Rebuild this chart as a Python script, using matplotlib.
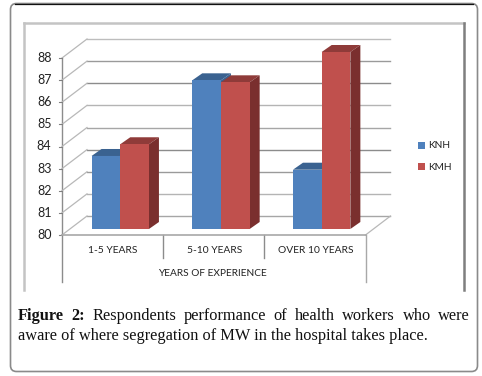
import matplotlib
matplotlib.use('Agg')
import matplotlib.pyplot as plt
from matplotlib.patches import FancyBboxPatch, Polygon, Rectangle
from matplotlib.lines import Line2D

W, H = 482, 376

categories = ['1-5 YEARS', '5-10 YEARS', 'OVER 10 YEARS']
knh = [83.3, 86.72, 82.68]
kmh = [83.83, 86.63, 88.0]
y_ticks = [80, 81, 82, 83, 84, 85, 86, 87, 88]
x_title = 'YEARS OF EXPERIENCE'
caption_bold = 'Figure 2:'
caption_1 = 'Respondents performance of health workers who were'
caption_2 = 'aware of where segregation of MW in the hospital takes place.'

BLUE, BLUE_TOP = '#4F81BD', '#3A6290'
RED, RED_TOP, RED_SIDE = '#C0504D', '#8F3B39', '#7A2F2E'
LAB = 'Lato'

fig = plt.figure(figsize=(W / 100, H / 100), dpi=100, facecolor='white')


def fx(x):
    return x / W


def fy(y):
    return 1 - y / H


def pline(xs, ys, color, lw=1.0):
    fig.add_artist(Line2D([fx(x) for x in xs], [fy(y) for y in ys], color=color, lw=lw,
                          transform=fig.transFigure))


def ptext(x, y, s, **kw):
    return fig.text(fx(x), fy(y), s, **kw)


# outer rounded frame
ax_bg = fig.add_axes([0, 0, 1, 1], zorder=0)
ax_bg.set_xlim(0, W)
ax_bg.set_ylim(H, 0)
ax_bg.axis('off')
ax_bg.add_patch(FancyBboxPatch((10.5, 3.5), 467, 368, boxstyle='round,pad=0,rounding_size=6',
                               fc='white', ec='#8a8a8a', lw=1.2))
ax_bg.plot([15, 473], [3.5, 3.5], color='#111111', lw=0.9)

# inner chart box
ax_bg.plot([24, 24], [23, 290], color='#c4c4c4', lw=1.8)
ax_bg.plot([24, 464], [23, 23], color='#c4c4c4', lw=1.8)
ax_bg.plot([464, 464], [23, 290], color='#7f7f7f', lw=1.8)

# chart axes = the front plane of the 3d box
x0, x1, y_bot, y_top = 62, 365.5, 235, 58
ax = fig.add_axes([fx(x0), fy(y_bot), (x1 - x0) / W, (y_bot - y_top) / H], zorder=2)
ax.set_xlim(0, 3)
ax.set_ylim(80, 88)
ax.axis('off')
ax.patch.set_alpha(0)

ux = (x1 - x0) / 3
uy = (y_bot - y_top) / 8
wall_dx, wall_dy = 25 / ux, 19 / uy      # depth of the walls in data units
bar_dy = 6 / uy                          # bars stand a bit back on the floor
side_dx, side_dy = 10 / ux, 7 / uy       # depth of a bar
bar_w = 28.7 / ux
start = 0.292

grid_cols = ['#a6a6a6', '#b4b4b4', '#9a9a9a', '#8c8c8c', '#a6a6a6', '#b4b4b4', '#8c8c8c', '#9a9a9a', '#bdbdbd']
for t, c in zip(y_ticks, grid_cols):
    ax.plot([wall_dx, 3 + wall_dx], [t + wall_dy, t + wall_dy], color=c, lw=1.0, clip_on=False, zorder=1)
    ax.plot([0, wall_dx], [t, t + wall_dy], color='#b8b8b8', lw=0.9, clip_on=False, zorder=1)
    ax.plot([-2.5 / ux, 0], [t, t], color='#808080', lw=0.8, clip_on=False, zorder=1)
    ax.text(-10.5 / ux, t, str(t), ha='right', va='center', fontsize=9, family=LAB, color='#222222')

ax.plot([3, 3 + wall_dx], [80, 80 + wall_dy], color='#b8b8b8', lw=0.9, clip_on=False, zorder=1)
ax.plot([0, 3], [80, 80], color='#a8a8a8', lw=1.2, clip_on=False, zorder=1)


def draw_bar(left, val, col, top_col, side_col):
    z = 3 + left
    b = 80 + bar_dy
    v = val + bar_dy
    ax.bar(left, v - b, bar_w, bottom=b, align='edge', color=col, clip_on=False, zorder=z + 0.2)
    ax.add_patch(Polygon([(left, v), (left + bar_w, v), (left + bar_w + side_dx, v + side_dy), (left + side_dx, v + side_dy)],
                         fc=top_col, ec='none', clip_on=False, zorder=z))
    ax.add_patch(Polygon([(left + bar_w, b), (left + bar_w + side_dx, b + side_dy), (left + bar_w + side_dx, v + side_dy),
                          (left + bar_w, v)], fc=side_col, ec='none', clip_on=False, zorder=z))


for i in range(len(categories)):
    draw_bar(start + i * 0.9955, knh[i], BLUE, BLUE_TOP, BLUE_TOP)
    draw_bar(start + i * 0.9955 + bar_w, kmh[i], RED, RED_TOP, RED_SIDE)

# multi level category axis
pline([62, 62], [58, 282], '#8c8c8c')
pline([163, 163], [235, 258], '#8c8c8c')
pline([263.5, 263.5], [235, 258], '#8c8c8c')
pline([365.5, 365.5], [235, 282], '#a8a8a8')
for i, c in enumerate(categories):
    ptext(x0 + ux * (i + 0.5) + 0.5, 250.7, c, ha='center', va='center', fontsize=7.4, family=LAB, color='#222222')
ptext(212.7, 274, x_title, ha='center', va='center', fontsize=7.3, family=LAB, color='#222222')

# legend
ax_bg.add_patch(Rectangle((418, 142), 6.5, 7, fc=BLUE, ec='none'))
ax_bg.add_patch(Rectangle((418, 163), 6.5, 7, fc=RED, ec='none'))
ptext(428, 145.5, 'KNH', ha='left', va='center', fontsize=7.3, family=LAB, color='#222222')
ptext(428, 167, 'KMH', ha='left', va='center', fontsize=7.3, family=LAB, color='#222222')

# caption, first line justified word by word
SERIF = 'Liberation Serif'
CS = 11.8
rend = fig.canvas.get_renderer()
items = [(w, 'bold') for w in caption_bold.split()] + [(w, 'normal') for w in caption_1.split()]
texts = [ptext(0, 320, w, fontsize=CS, family=SERIF, weight=b, color='#111111', va='baseline') for w, b in items]
widths = [t.get_window_extent(rend).width for t in texts]
gap = (470 - 18 - sum(widths)) / (len(texts) - 1)
x = 18
for t, wd in zip(texts, widths):
    t.set_x(fx(x))
    x += wd + gap
ptext(18, 340, caption_2, fontsize=CS, family=SERIF, color='#111111', va='baseline')

fig.savefig('out.png', dpi=100, facecolor='white')
